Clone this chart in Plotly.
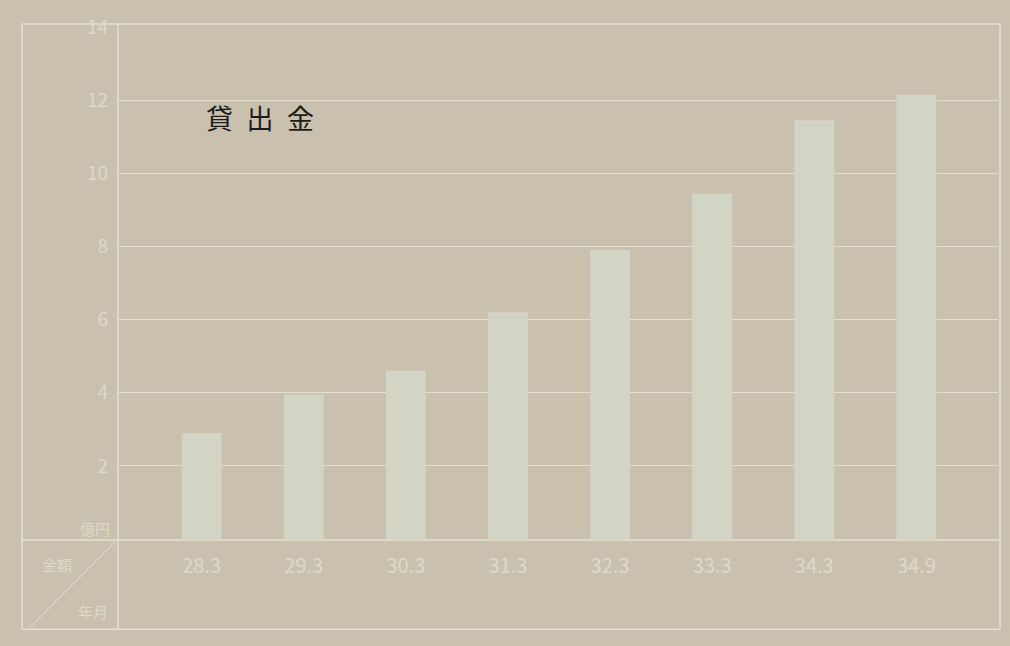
import plotly.graph_objects as go

periods = ["28.3", "29.3", "30.3", "31.3", "32.3", "33.3", "34.3", "34.9"]
loans = [2.9, 3.95, 4.6, 6.2, 7.9, 9.45, 11.45, 12.15]
y_ticks = [2, 4, 6, 8, 10, 12, 14]
y_tick_text = ["2", "4", "6", "8", "10", "12", "14"]

BG = "#c9c1ae"
BAR = "#d2d5c6"
LINE = "#e4dfcf"
TXT = "#ded9c8"

W, H = 1010, 646
ML, MR, MT, MB = 118, 12, 23, 107
PW, PH = W - ML - MR, H - MT - MB


def px(x):
    return (x - ML) / PW


def py(y):
    return (H - MB - y) / PH


fig = go.Figure()
fig.add_trace(go.Bar(x=periods, y=loans, marker=dict(color=BAR, line=dict(width=0)),
                     width=0.39, hoverinfo="x+y"))

shapes = []


def line(x0, y0, x1, y1, w=1.5):
    shapes.append(dict(type="line", xref="paper", yref="paper",
                       x0=px(x0), y0=py(y0), x1=px(x1), y1=py(y1),
                       line=dict(color=LINE, width=w), layer="below"))


# outer frame
line(22, 20, 1000, 20)
line(22, 630, 1000, 630)
line(22, 20, 22, 630)
line(1000, 20, 1000, 630)
# axis line and table divider
line(118, 20, 118, 630)
line(22, 540, 1000, 540)
# diagonal in corner cell
line(30, 628, 115, 542, 1)

fig.update_layout(
    width=W, height=H,
    margin=dict(l=ML, r=MR, t=MT, b=MB),
    paper_bgcolor=BG, plot_bgcolor=BG,
    showlegend=False,
    bargap=0.6,
    font=dict(family="Noto Sans CJK JP", color=TXT),
    xaxis=dict(type="category", range=[-0.82, 7.8], showgrid=False, zeroline=False,
               showline=False, ticks="", tickfont=dict(size=20, color=TXT),
               ticklabelstandoff=13),
    yaxis=dict(range=[0, 14], tickvals=y_ticks, ticktext=y_tick_text,
               showgrid=True, gridcolor=LINE, gridwidth=1, zeroline=False,
               showline=False, ticks="", tickfont=dict(size=19, color=TXT),
               ticklabelstandoff=9),
    shapes=shapes,
    annotations=[
        dict(text="貸\u2002出\u2002金", xref="paper", yref="paper", x=px(204), y=py(114),
             xanchor="left", yanchor="middle", showarrow=False,
             font=dict(size=27, color="#1e1c1a", family="Noto Sans CJK JP")),
        dict(text="億円", xref="paper", yref="paper", x=px(112), y=py(528),
             xanchor="right", yanchor="middle", showarrow=False,
             font=dict(size=15, color=TXT)),
        dict(text="金額", xref="paper", yref="paper", x=px(40), y=py(565),
             xanchor="left", yanchor="middle", showarrow=False,
             font=dict(size=15, color=TXT)),
        dict(text="年月", xref="paper", yref="paper", x=px(110), y=py(612),
             xanchor="right", yanchor="middle", showarrow=False,
             font=dict(size=15, color=TXT)),
    ],
)

fig.write_html("out.html")
